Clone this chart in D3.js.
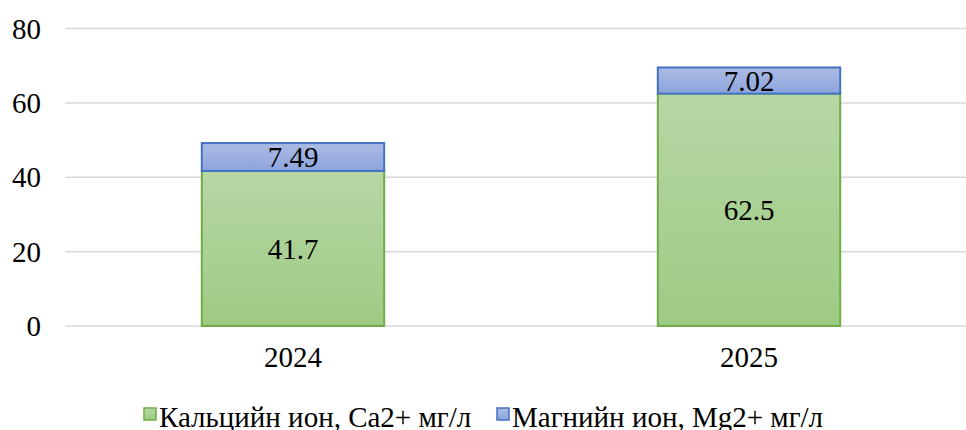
<html>
<head>
  <meta charset="utf-8">
</head>
<body style="margin:0">
  <svg id="chart" width="966" height="430"></svg>

  <script src="https://cdn.jsdelivr.net/npm/d3@7"></script>
  <script>
    // data
    let years = ["2024", "2025"];
    let calcium = [41.7, 62.5];
    let magnesium = [7.49, 7.02];
    let yTicks = [0, 20, 40, 60, 80];
    let seriesNames = ["Кальцийн ион, Ca2+ мг/л", "Магнийн ион, Mg2+ мг/л"];

    let width = 966, height = 430;
    let plot = { left: 65, right: 977, top: 28.5, bottom: 326 };
    let fontFamily = "Liberation Serif";
    let fontSize = 29;

    let svg = d3.select("#chart");

    // every text gets the serif font
    function styleText(sel) {
      return sel.attr("font-family", fontFamily)
        .attr("font-size", fontSize)
        .attr("fill", "#000");
    }

    // gradients for bar fills
    let defs = svg.append("defs");
    function grad(id, top, bottom) {
      let g = defs.append("linearGradient")
        .attr("id", id)
        .attr("x1", 0).attr("y1", 0).attr("x2", 0).attr("y2", 1);
      g.append("stop").attr("offset", "0%").attr("stop-color", top);
      g.append("stop").attr("offset", "100%").attr("stop-color", bottom);
    }
    grad("gGreen", "#b7d7a6", "#9ecb83");
    grad("gBlue", "#abbbe4", "#8da4dc");

    let x = d3.scaleBand()
      .domain(years)
      .range([plot.left, plot.right])
      .paddingInner(0.6)
      .paddingOuter(0.3);

    let y = d3.scaleLinear()
      .domain([0, 80])
      .range([plot.bottom, plot.top]);

    // gridlines
    svg.append("g")
      .selectAll("line")
      .data(yTicks)
      .enter().append("line")
      .attr("x1", plot.left)
      .attr("x2", width)
      .attr("y1", d => y(d))
      .attr("y2", d => y(d))
      .attr("stroke", "#d9d9d9")
      .attr("stroke-width", 1.5);

    // y tick labels
    svg.selectAll(".tick-label")
      .data(yTicks)
      .enter().append("text")
      .attr("class", "tick-label")
      .attr("x", 41)
      .attr("y", d => y(d))
      .attr("dy", "0.35em")
      .attr("text-anchor", "end")
      .call(styleText)
      .text(d => d);

    // stacked data
    let stacks = years.map((yr, i) => ({
      year: yr,
      segs: [
        { y0: 0, y1: calcium[i], v: calcium[i], fill: "url(#gGreen)", stroke: "#70ad47" },
        { y0: calcium[i], y1: calcium[i] + magnesium[i], v: magnesium[i], fill: "url(#gBlue)", stroke: "#4472c4" }
      ]
    }));

    let groups = svg.selectAll(".bar")
      .data(stacks)
      .enter().append("g")
      .attr("class", "bar");

    groups.selectAll("rect")
      .data(d => d.segs.map(s => Object.assign({ year: d.year }, s)))
      .enter().append("rect")
      .attr("x", d => x(d.year))
      .attr("width", x.bandwidth())
      .attr("y", d => y(d.y1))
      .attr("height", d => y(d.y0) - y(d.y1))
      .attr("fill", d => d.fill)
      .attr("stroke", d => d.stroke)
      .attr("stroke-width", 2);

    groups.selectAll(".val-label")
      .data(d => d.segs.map(s => Object.assign({ year: d.year }, s)))
      .enter().append("text")
      .attr("class", "val-label")
      .attr("x", d => x(d.year) + x.bandwidth() / 2)
      .attr("y", d => y((d.y0 + d.y1) / 2))
      .attr("dy", "0.35em")
      .attr("text-anchor", "middle")
      .call(styleText)
      .text(d => d.v);

    // category labels
    svg.selectAll(".cat-label")
      .data(years)
      .enter().append("text")
      .attr("class", "cat-label")
      .attr("x", d => x(d) + x.bandwidth() / 2)
      .attr("y", 367)
      .attr("text-anchor", "middle")
      .call(styleText)
      .text(d => d);

    // legend
    let legendX = [143, 496];
    let legendFill = ["url(#gGreen)", "url(#gBlue)"];
    let legendStroke = ["#70ad47", "#4472c4"];
    let legend = svg.selectAll(".legend")
      .data(seriesNames)
      .enter().append("g")
      .attr("class", "legend")
      .attr("transform", (d, i) => `translate(${legendX[i]}, 0)`);
    legend.append("rect")
      .attr("x", 1)
      .attr("y", 408)
      .attr("width", 12)
      .attr("height", 12)
      .attr("fill", (d, i) => legendFill[i])
      .attr("stroke", (d, i) => legendStroke[i])
      .attr("stroke-width", 1.5);
    legend.append("text")
      .attr("x", 16)
      .attr("y", 427)
      .call(styleText)
      .text(d => d);
  </script>
</body>
</html>
